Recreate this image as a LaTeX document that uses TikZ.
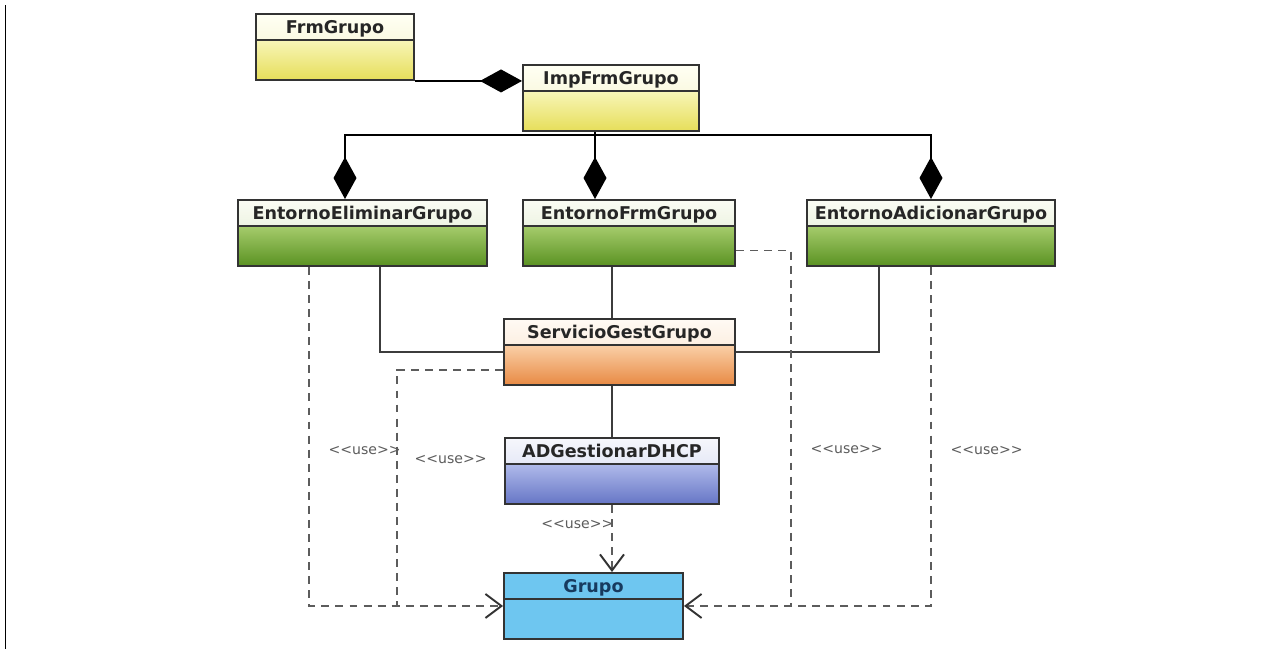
\documentclass[tikz,border=0pt]{standalone}
\usepackage{fontspec}
\setmainfont{DejaVu Sans}
\newfontfamily\tagfont{DejaVu Sans}
\usepackage{tikz}
\usetikzlibrary{arrows.meta, positioning, calc}

\definecolor{umlborder}{HTML}{333333}
\definecolor{umlline}{HTML}{3C3C3C}
\definecolor{usegray}{HTML}{5C5C5C}
\definecolor{yelhdA}{HTML}{FFFFF4}
\definecolor{yelhdB}{HTML}{F3F1C6}
\definecolor{yelbdA}{HTML}{F8F6B8}
\definecolor{yelbdB}{HTML}{E6DE5A}
\definecolor{grnhdA}{HTML}{FAFCF4}
\definecolor{grnhdB}{HTML}{DCE8CA}
\definecolor{grnbdA}{HTML}{A6CC6C}
\definecolor{grnbdB}{HTML}{5A9222}
\definecolor{orghdA}{HTML}{FFFAF4}
\definecolor{orghdB}{HTML}{F8DEC6}
\definecolor{orgbdA}{HTML}{FAD0A8}
\definecolor{orgbdB}{HTML}{E88A44}
\definecolor{bluhdA}{HTML}{F6F7FC}
\definecolor{bluhdB}{HTML}{CDD3EE}
\definecolor{blubdA}{HTML}{B0BAEA}
\definecolor{blubdB}{HTML}{6676C6}
\definecolor{grupofill}{HTML}{6EC6F0}
\definecolor{grupotext}{HTML}{173A5E}

\tikzset{
  umlclass/.style n args={4}{
    draw=umlborder, line width=1.1pt, inner xsep=4pt, inner ysep=0pt,
    text height=0.39cm, text depth=0.93cm, anchor=north,
    font=\bfseries\fontsize{10}{12}\selectfont, text=black!85,
    path picture={
      \shade[top color=#1, bottom color=#2]
        (path picture bounding box.north west) rectangle
        ([yshift=-0.52cm]path picture bounding box.north east);
      \shade[top color=#3, bottom color=#4]
        ([yshift=-0.52cm]path picture bounding box.north west) rectangle
        (path picture bounding box.south east);
      \draw[umlborder, line width=1.1pt]
        ([yshift=-0.52cm]path picture bounding box.north west) --
        ([yshift=-0.52cm]path picture bounding box.north east);
    }
  },
  yellowclass/.style={umlclass={yelhdA}{yelhdB}{yelbdA}{yelbdB}},
  greenclass/.style={umlclass={grnhdA}{grnhdB}{grnbdA}{grnbdB}},
  orangeclass/.style={umlclass={orghdA}{orghdB}{orgbdA}{orgbdB}},
  blueclass/.style={umlclass={bluhdA}{bluhdB}{blubdA}{blubdB}},
  cyanclass/.style={umlclass={grupofill}{grupofill}{grupofill}{grupofill},
    text=grupotext},
  assoc/.style={draw=umlline, line width=0.9pt},
  compo/.style={{Diamond[length=8.4mm, width=4.6mm]}-, draw=black,
    line width=0.9pt},
  usedash/.style={draw=usegray, line width=1pt,
    dash pattern=on 4.5pt off 3.5pt},
  usedep/.style={usedash,
    -{Straight Barb[length=3.2mm, width=4.8mm, line width=1.1pt, color=black!80]}},
  usetag/.style={font=\tagfont\fontsize{8}{10}\selectfont, text=usegray,
    inner sep=1pt},
}

\begin{document}
\begin{tikzpicture}
  \useasboundingbox (0,0) rectangle (25.68,-12.98);
  \draw[line width=0.8pt] (0.106,-0.1) -- (0.106,-12.98);

  % Classes
  \node[yellowclass, minimum width=3.16cm] (frmgrupo) at (6.70,-0.26)
    {FrmGrupo};
  \node[yellowclass, minimum width=3.52cm] (impfrm) at (12.22,-1.28)
    {ImpFrmGrupo};
  \node[greenclass, minimum width=4.98cm] (entelim) at (7.25,-3.98)
    {EntornoEliminarGrupo};
  \node[greenclass, minimum width=4.24cm] (entfrm) at (12.58,-3.98)
    {EntornoFrmGrupo};
  \node[greenclass, minimum width=4.96cm] (entadic) at (18.62,-3.98)
    {EntornoAdicionarGrupo};
  \node[orangeclass, minimum width=4.62cm] (servicio) at (12.39,-6.36)
    {ServicioGestGrupo};
  \node[blueclass, minimum width=4.28cm] (adgest) at (12.24,-8.74)
    {ADGestionarDHCP};
  \node[cyanclass, minimum width=3.58cm] (grupo) at (11.87,-11.44)
    {Grupo};

  % Composition
  \draw[compo] (impfrm.west |- frmgrupo.south east) -- (frmgrupo.south east);
  \coordinate (hub) at ([xshift=-0.32cm, yshift=-0.06cm]impfrm.south);
  \draw[assoc, draw=black] ([xshift=-0.32cm]impfrm.south) -- (hub);
  \draw[compo] ([xshift=-0.35cm]entelim.north) |- (hub);
  \draw[compo] (entfrm.north -| hub) -- (hub);
  \draw[compo] (entadic.north) |- (hub);

  % Associations
  \draw[assoc] (servicio.west) -| ([xshift=0.35cm]entelim.south);
  \draw[assoc] (servicio.east) -| ([xshift=-1.04cm]entadic.south);
  \draw[assoc] (entfrm.south -| adgest.north) -- (servicio.north -| adgest.north);
  \draw[assoc] (servicio.south -| adgest.north) -- (adgest.north);

  % Dependencies
  \coordinate (joinL) at ([xshift=-2.12cm]grupo.west);
  \coordinate (joinR) at ([xshift=2.14cm]grupo.east);
  \draw[usedep] ([xshift=-1.07cm]entelim.south) |-
    node[usetag, pos=0.27, right=0.34cm] {<<use>>} (grupo.west);
  \draw[usedash] ([yshift=-0.36cm]servicio.west) -|
    node[usetag, pos=0.69, right=0.3cm] {<<use>>} (joinL);
  \draw[usedash] ([yshift=-0.35cm]entfrm.east) -|
    node[usetag, pos=0.78, right=0.34cm] {<<use>>} (joinR);
  \draw[usedep] (entadic.south) |-
    node[usetag, pos=0.27, right=0.34cm] {<<use>>} (grupo.east);
  \draw[usedep] (adgest.south) --
    node[usetag, pos=0.29, left=-0.08cm] {<<use>>} (adgest.south |- grupo.north);
\end{tikzpicture}
\end{document}
